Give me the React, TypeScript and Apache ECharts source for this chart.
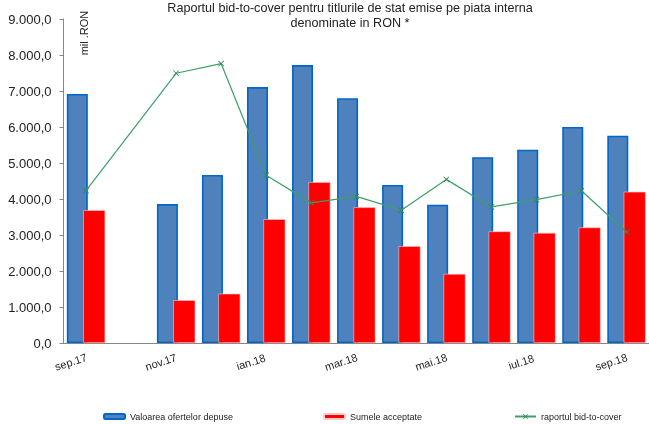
import React, { useEffect, useRef } from "react";
import * as echarts from "echarts";

const categories = ["sep.17", "oct.17", "nov.17", "dec.17", "ian.18", "feb.18", "mar.18", "apr.18", "mai.18", "iun.18", "iul.18", "aug.18", "sep.18"];
const offers = [6920, null, 3860, 4670, 7110, 7720, 6800, 4390, 3840, 5160, 5370, 6000, 5760];
const accepted = [3690, null, 1190, 1370, 3440, 4470, 3770, 2690, 1920, 3100, 3060, 3210, 4200];
const ratio = [1.88, null, 3.33, 3.45, 2.07, 1.73, 1.81, 1.64, 2.02, 1.68, 1.77, 1.88, 1.37];
const yTicks = { min: 0, max: 9000, interval: 1000 };
const titleLines = ["Raportul bid-to-cover pentru titlurile de stat emise pe piata interna", "denominate in RON *"];
const seriesNames = ["Valoarea ofertelor depuse", "Sumele acceptate", "raportul bid-to-cover"];

const FONT = "'Liberation Sans', Arial, sans-serif";

const fmt = (v: number) => Math.round(v).toString().replace(/\B(?=(\d{3})+(?!\d))/g, ".") + ",0";

const X_SYMBOL = "path://M0,1 L1,0 L5,4 L9,0 L10,1 L6,5 L10,9 L9,10 L5,6 L1,10 L0,9 L4,5 Z";

export default function App() {
  const ref = useRef<HTMLDivElement>(null);
  useEffect(() => {
    if (!ref.current) return;
    const chart = echarts.init(ref.current, null, { renderer: "svg" });
    const legendText = { fontSize: 9, color: "#222", fontFamily: FONT };
    chart.setOption({
      animation: false,
      textStyle: { fontFamily: FONT },
      title: {
        text: titleLines.join("\n"),
        left: 350,
        top: 0,
        padding: 0,
        textAlign: "center",
        textStyle: { fontSize: 12.6, fontWeight: "normal", color: "#222", lineHeight: 15, fontFamily: FONT },
      },
      graphic: [
        {
          type: "text",
          x: 84,
          y: 33,
          rotation: Math.PI / 2,
          style: { text: "mil .RON", fontSize: 11, fill: "#222", textAlign: "center", textVerticalAlign: "middle", fontFamily: FONT },
        },
      ],
      legend: [
        { data: [seriesNames[0]], left: 103, top: 412, itemWidth: 21, itemHeight: 5, textStyle: legendText, padding: 0 },
        { data: [seriesNames[1]], left: 323, top: 412, itemWidth: 21, itemHeight: 5, textStyle: legendText, padding: 0 },
        { data: [seriesNames[2]], left: 514, top: 412, itemWidth: 21, itemHeight: 6, textStyle: legendText, padding: 0 },
      ],
      grid: { left: 63.5, top: 19, width: 590, height: 324, containLabel: false },
      xAxis: {
        type: "category",
        data: categories,
        boundaryGap: true,
        axisLine: { lineStyle: { color: "#868686", width: 1 } },
        axisTick: { interval: 1, length: 5, lineStyle: { color: "#a0a0a0" } },
        axisLabel: {
          interval: 1,
          rotate: 18,
          align: "center",
          verticalAlign: "middle",
          margin: 14,
          padding: [0, 32, 0, 0],
          fontSize: 11,
          color: "#222",
          fontFamily: FONT,
        },
      },
      yAxis: [
        {
          type: "value",
          min: yTicks.min,
          max: yTicks.max,
          interval: yTicks.interval,
          splitLine: { show: false },
          axisLine: { show: true, lineStyle: { color: "#868686" } },
          axisTick: { show: true, length: 4, lineStyle: { color: "#868686" } },
          axisLabel: { formatter: fmt, fontSize: 13, color: "#222", margin: 12, fontFamily: FONT },
        },
        { type: "value", min: 0, max: 4, show: false, splitLine: { show: false } },
      ],
      series: [
        {
          name: seriesNames[0],
          type: "bar",
          data: offers,
          barWidth: 21,
          barGap: "-22%",
          itemStyle: { color: "#4F81BD", borderColor: "#0066CC", borderWidth: 1.6 },
        },
        {
          name: seriesNames[1],
          type: "bar",
          data: accepted,
          barWidth: 22,
          itemStyle: { color: "#FF0000", borderColor: "#FFC8C8", borderWidth: 0.6 },
        },
        {
          name: seriesNames[2],
          type: "line",
          yAxisIndex: 1,
          data: ratio,
          connectNulls: true,
          symbol: X_SYMBOL,
          symbolSize: 6,
          lineStyle: { color: "#3F9F68", width: 1.2 },
          itemStyle: { color: "#2E8B57" },
          z: 5,
        },
      ],
    });
    return () => chart.dispose();
  }, []);
  return <div ref={ref} style={{ position: "fixed", left: 0, top: 0, width: 649, height: 424 }} />;
}
